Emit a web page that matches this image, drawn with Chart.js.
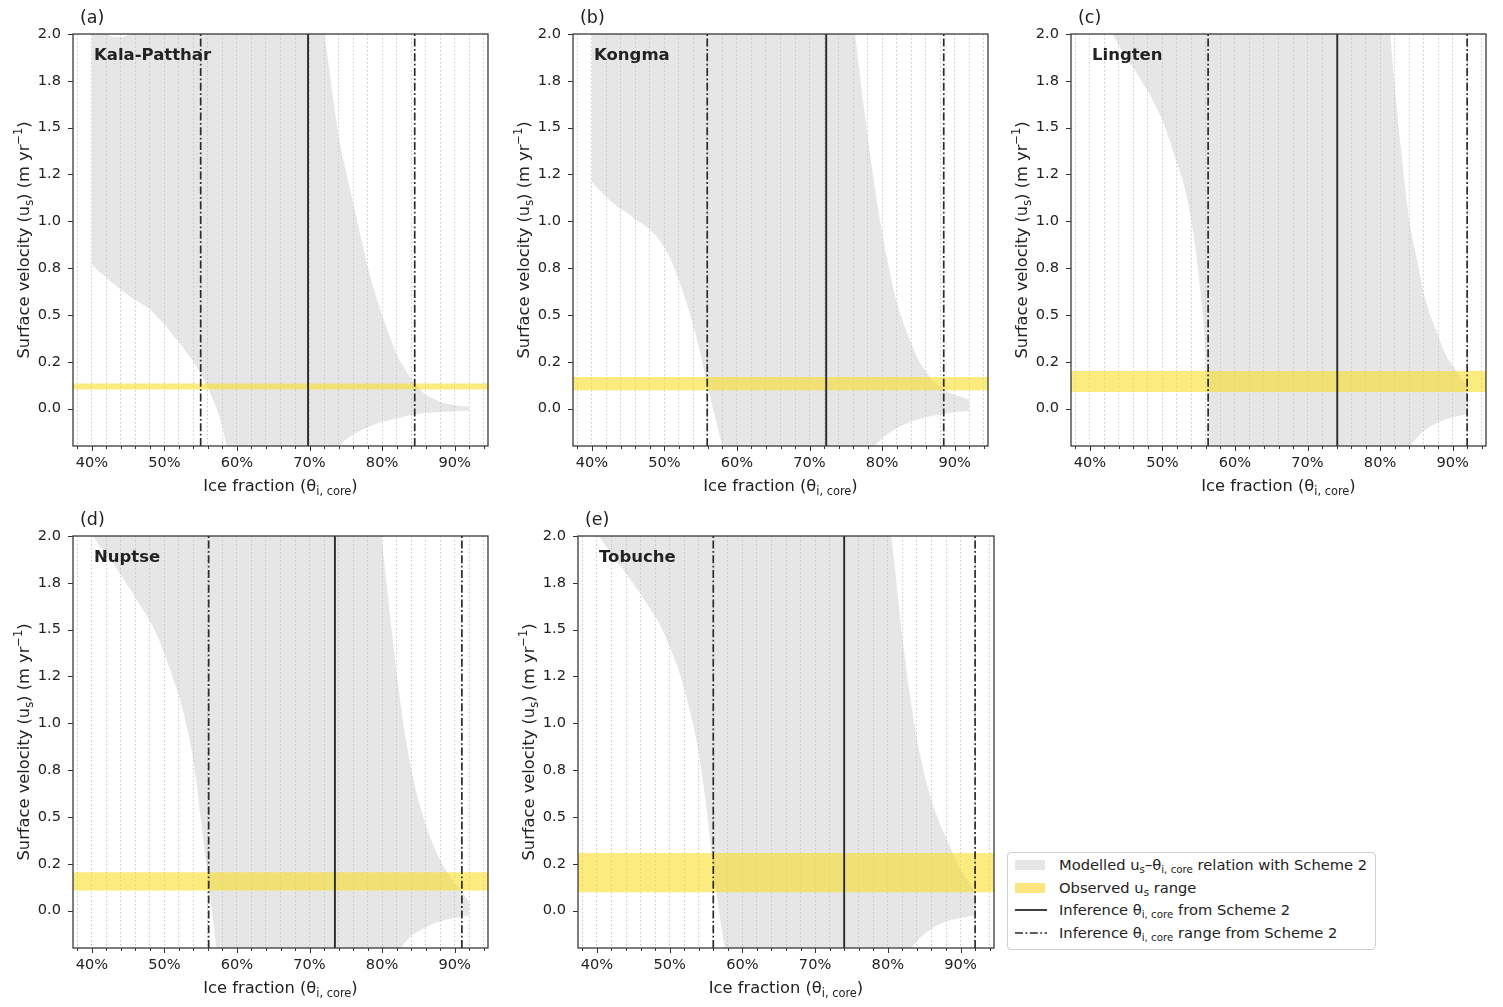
<!DOCTYPE html>
<html>
<head>
<meta charset="utf-8">
<script src="https://cdn.jsdelivr.net/npm/chart.js@4.4.0/dist/chart.umd.min.js"></script>
<style>
  body { margin: 0; background: #fff; width: 1503px; height: 1007px; position: relative; overflow: hidden;
         font-family: "DejaVu Sans", sans-serif; color: #222; }
  .panel { position: absolute; }
  #legend { position: absolute; left: 1007px; top: 852px; width: 369px; height: 98px; box-sizing: border-box;
            border: 1px solid #cfcfcf; border-radius: 4px; font-size: 14.7px; background: #fff; }
  #legend .row { position: absolute; left: 0; width: 100%; height: 22.5px; }
  #legend .sw { position: absolute; left: 7px; }
  #legend .patch { top: 6px; width: 30px; height: 10px; }
  #legend .lt { position: absolute; left: 51px; top: 0; line-height: 22.5px; white-space: nowrap; }
  #legend sub { font-size: 70%; vertical-align: -0.3em; line-height: 0; }
</style>
</head>
<body>
<div class="panel" id="p0"><canvas id="c0"></canvas></div>
<div class="panel" id="p1"><canvas id="c1"></canvas></div>
<div class="panel" id="p2"><canvas id="c2"></canvas></div>
<div class="panel" id="p3"><canvas id="c3"></canvas></div>
<div class="panel" id="p4"><canvas id="c4"></canvas></div>

<div id="legend">
  <div class="row" style="top:1px"><span class="sw patch" style="background:#e6e6e6"></span><span class="lt">Modelled u<sub>s</sub>–θ<sub>i, core</sub> relation with Scheme 2</span></div>
  <div class="row" style="top:23.5px"><span class="sw patch" style="background:#fbe77d"></span><span class="lt">Observed u<sub>s</sub> range</span></div>
  <div class="row" style="top:46px"><svg class="sw" style="top:6px" width="32" height="10"><line x1="0" y1="5" x2="32" y2="5" stroke="#2b2b2b" stroke-width="1.8"/></svg><span class="lt">Inference θ<sub>i, core</sub> from Scheme 2</span></div>
  <div class="row" style="top:68.5px"><svg class="sw" style="top:6px" width="32" height="10"><line x1="0" y1="5" x2="32" y2="5" stroke="#2b2b2b" stroke-width="1.6" stroke-dasharray="8 2.5 1.8 2.5"/></svg><span class="lt">Inference θ<sub>i, core</sub> range from Scheme 2</span></div>
</div>

<script>
// ice fraction sample points (%)
const thetaGrid = [40, 41, 42, 43, 44, 45, 46, 47, 48, 49,
                   50, 51, 52, 53, 54, 55, 56, 57, 58, 59,
                   60, 61, 62, 63, 64, 65, 66, 67, 68, 69,
                   70, 71, 72, 73, 74, 75, 76, 77, 78, 79,
                   80, 81, 82, 83, 84, 85, 86, 87, 88, 89,
                   90, 91, 92];

// modelled band (upper / lower edge of us); values outside -0.2..2 are clipped
const kalaUpper = [2.05, 2.03, 2.0, 1.984, 1.984, 2.0, 2.1, 2.2, 2.4, 2.6,
                   2.8, 3.0, 3.1, 3.2, 3.3, 3.3, 3.3, 3.3, 3.3, 3.25,
                   3.2, 3.15, 3.1, 3.05, 3.0, 2.95, 2.9, 2.85, 2.8, 2.75,
                   2.68, 2.35, 2.03, 1.73, 1.46, 1.27, 1.10, 0.93, 0.76, 0.62,
                   0.50, 0.39, 0.29, 0.22, 0.16, 0.113, 0.074, 0.053, 0.035, 0.025,
                   0.018, 0.014, 0.01];
const kalaLower = [0.77, 0.73, 0.70, 0.665, 0.635, 0.605, 0.58, 0.555, 0.53, 0.49,
                   0.45, 0.40, 0.355, 0.30, 0.25, 0.185, 0.11, 0.02, -0.10, -0.27,
                   -0.40, -0.52, -0.62, -0.70, -0.75, -0.78, -0.78, -0.75, -0.68, -0.58,
                   -0.48, -0.39, -0.31, -0.25, -0.205, -0.165, -0.14, -0.118, -0.10, -0.085,
                   -0.071, -0.062, -0.053, -0.043, -0.035, -0.029, -0.024, -0.021, -0.018, -0.016,
                   -0.014, -0.012, -0.01];

const kongmaUpper = [4.0, 4.0, 4.0, 4.0, 4.0, 4.0, 4.0, 4.0, 4.0, 4.0,
                     4.0, 4.0, 4.0, 4.0, 4.0, 4.0, 4.0, 4.0, 4.0, 4.0,
                     4.0, 4.0, 4.0, 4.0, 4.0, 3.95, 3.9, 3.85, 3.8, 3.75,
                     3.7, 3.6, 3.4, 3.1, 2.8, 2.45, 2.1, 1.76, 1.46, 1.18,
                     0.94, 0.74, 0.57, 0.45, 0.35, 0.26, 0.20, 0.15, 0.12, 0.09,
                     0.075, 0.06, 0.046];
const kongmaLower = [1.21, 1.17, 1.13, 1.095, 1.065, 1.04, 1.01, 0.985, 0.955, 0.915,
                     0.86, 0.785, 0.685, 0.57, 0.44, 0.285, 0.11, -0.05, -0.2, -0.33,
                     -0.45, -0.55, -0.63, -0.70, -0.75, -0.79, -0.81, -0.82, -0.81, -0.78,
                     -0.74, -0.68, -0.61, -0.53, -0.46, -0.39, -0.33, -0.28, -0.235, -0.198,
                     -0.16, -0.13, -0.105, -0.086, -0.069, -0.057, -0.047, -0.039, -0.031, -0.025,
                     -0.02, -0.016, -0.012];

const lingtenUpper = [4.0, 4.0, 4.0, 4.0, 4.0, 4.0, 4.0, 4.0, 4.0, 4.0,
                      4.0, 4.0, 4.0, 4.0, 4.0, 4.0, 4.0, 4.0, 4.0, 4.0,
                      4.0, 4.0, 4.0, 4.0, 4.0, 4.0, 4.0, 4.0, 4.0, 4.0,
                      4.0, 4.0, 4.0, 4.0, 4.0, 3.95, 3.8, 3.6, 3.35, 3.1,
                      2.75, 2.2, 1.73, 1.34, 1.01, 0.81, 0.62, 0.49, 0.39, 0.29,
                      0.23, 0.175, 0.12];
const lingtenLower = [2.4, 2.25, 2.12, 2.01, 1.94, 1.875, 1.82, 1.755, 1.695, 1.62,
                      1.54, 1.43, 1.31, 1.19, 1.00, 0.71, 0.27, -0.6, -0.9, -1.0,
                      -1.05, -1.1, -1.1, -1.1, -1.1, -1.1, -1.1, -1.1, -1.1, -1.1,
                      -1.1, -1.1, -1.1, -1.1, -1.05, -1.0, -0.9, -0.8, -0.7, -0.6,
                      -0.5, -0.41, -0.33, -0.26, -0.205, -0.16, -0.12, -0.095, -0.074, -0.058,
                      -0.047, -0.038, -0.03];

const nuptseUpper = [4.0, 4.0, 4.0, 4.0, 4.0, 4.0, 4.0, 4.0, 4.0, 4.0,
                     4.0, 4.0, 4.0, 4.0, 4.0, 4.0, 4.0, 4.0, 4.0, 4.0,
                     4.0, 4.0, 4.0, 4.0, 4.0, 4.0, 4.0, 4.0, 4.0, 4.0,
                     4.0, 4.0, 4.0, 4.0, 4.0, 3.95, 3.6, 3.2, 2.8, 2.35,
                     1.97, 1.61, 1.27, 0.98, 0.76, 0.59, 0.46, 0.355, 0.27, 0.205,
                     0.15, 0.10, 0.04];
const nuptseLower = [2.01, 1.95, 1.895, 1.85, 1.79, 1.73, 1.67, 1.61, 1.545, 1.47,
                     1.37, 1.26, 1.145, 0.995, 0.80, 0.49, 0.17, -0.15, -0.5, -0.7,
                     -0.85, -0.95, -0.95, -0.95, -0.95, -0.95, -0.95, -0.95, -0.95, -0.95,
                     -0.95, -0.95, -0.95, -0.95, -0.9, -0.82, -0.73, -0.65, -0.56, -0.47,
                     -0.38, -0.30, -0.225, -0.18, -0.135, -0.11, -0.09, -0.07, -0.058, -0.047,
                     -0.039, -0.033, -0.027];

const tobucheUpper = [4.0, 4.0, 4.0, 4.0, 4.0, 4.0, 4.0, 4.0, 4.0, 4.0,
                      4.0, 4.0, 4.0, 4.0, 4.0, 4.0, 4.0, 4.0, 4.0, 4.0,
                      4.0, 4.0, 4.0, 4.0, 4.0, 4.0, 4.0, 4.0, 4.0, 4.0,
                      4.0, 4.0, 4.0, 4.0, 4.0, 3.95, 3.8, 3.4, 3.0, 2.6,
                      2.17, 1.82, 1.46, 1.16, 0.92, 0.73, 0.59, 0.48, 0.39, 0.30,
                      0.22, 0.16, 0.10];
const tobucheLower = [2.01, 1.96, 1.90, 1.85, 1.80, 1.745, 1.69, 1.63, 1.57, 1.50,
                      1.41, 1.31, 1.185, 1.03, 0.84, 0.57, 0.22, -0.06, -0.3, -0.55,
                      -0.75, -0.9, -0.9, -0.9, -0.9, -0.9, -0.9, -0.9, -0.9, -0.9,
                      -0.9, -0.9, -0.9, -0.9, -0.85, -0.8, -0.74, -0.66, -0.58, -0.5,
                      -0.42, -0.34, -0.27, -0.21, -0.165, -0.125, -0.098, -0.075, -0.059, -0.048,
                      -0.040, -0.033, -0.027];

// observed us range [low, high] (m/yr)
const kalaObs = [0.102, 0.134];
const kongmaObs = [0.098, 0.169];
const lingtenObs = [0.089, 0.201];
const nuptseObs = [0.107, 0.205];
const tobucheObs = [0.098, 0.307];

// inferred ice fraction [range low, best, range high] (%)
const kalaInfer = [55.0, 69.8, 84.5];
const kongmaInfer = [55.9, 72.3, 88.5];
const lingtenInfer = [56.3, 74.1, 92.0];
const nuptseInfer = [56.1, 73.5, 91.0];
const tobucheInfer = [56.0, 74.0, 92.0];

const panelLetters = ['(a)', '(b)', '(c)', '(d)', '(e)'];
const siteNames = ['Kala-Patthar', 'Kongma', 'Lingten', 'Nuptse', 'Tobuche'];

// axes
const xLimits = [37.4, 94.6];
const yLimits = [-0.2, 2.0];
const xTickValues = [38, 40, 42, 44, 46, 48, 50, 52, 54, 56, 58, 60, 62, 64, 66,
                     68, 70, 72, 74, 76, 78, 80, 82, 84, 86, 88, 90, 92, 94];
const xMajorTicks = [40, 50, 60, 70, 80, 90];
const yTickValues = [0, 0.25, 0.5, 0.75, 1.0, 1.25, 1.5, 1.75, 2.0];
const yTickLabels = ['0.0', '0.2', '0.5', '0.8', '1.0', '1.2', '1.5', '1.8', '2.0'];

const uppers = [kalaUpper, kongmaUpper, lingtenUpper, nuptseUpper, tobucheUpper];
const lowers = [kalaLower, kongmaLower, lingtenLower, nuptseLower, tobucheLower];
const observed = [kalaObs, kongmaObs, lingtenObs, nuptseObs, tobucheObs];
const inferred = [kalaInfer, kongmaInfer, lingtenInfer, nuptseInfer, tobucheInfer];

// plot-area placement on the page: left, top, width, height
const plotBoxes = [[73, 34, 415, 412], [573, 34, 415, 412], [1071, 34, 415, 412],
                   [73, 536, 415, 412], [578, 536, 416, 412]];
const PAD_L = 72, PAD_T = 34, PAD_R = 12, PAD_B = 58;

const FONT = '"DejaVu Sans"';
const FS = 14.6;       // tick labels
const FS_TITLE = 16.3; // axis titles
const INK = '#222';
Chart.defaults.font.family = 'DejaVu Sans';
Chart.defaults.font.size = FS;
Chart.defaults.color = INK;

const xTitleParts = [{t: 'Ice fraction (θ'}, {t: 'i, core', sub: true}, {t: ')'}];
const yTitleParts = [{t: 'Surface velocity (u'}, {t: 's', sub: true}, {t: ') (m yr'}, {t: '−1', sup: true}, {t: ')'}];

// draws text with sub/superscript pieces, centred on cx, baseline at by
function drawRich(ctx, parts, cx, by, size, rotate) {
  ctx.save();
  ctx.translate(cx, by);
  if (rotate) ctx.rotate(-Math.PI / 2);
  ctx.textBaseline = 'alphabetic';
  ctx.textAlign = 'left';
  const sizes = parts.map(p => (p.sub || p.sup) ? size * 0.7 : size);
  const widths = parts.map((p, i) => { ctx.font = sizes[i] + 'px ' + FONT; return ctx.measureText(p.t).width; });
  let x = -widths.reduce((a, b) => a + b, 0) / 2;
  parts.forEach((p, i) => {
    ctx.font = sizes[i] + 'px ' + FONT;
    const dy = p.sub ? size * 0.22 : (p.sup ? -size * 0.42 : 0);
    ctx.fillText(p.t, x, dy);
    x += widths[i];
  });
  ctx.restore();
}

const decor = {
  id: 'decor',
  afterDraw(chart) {
    const {ctx, chartArea: a, scales: {x, y}} = chart;
    const o = chart.options.plugins.decor;
    ctx.save();
    ctx.strokeStyle = '#333';
    ctx.lineWidth = 1;
    // tick marks
    ctx.beginPath();
    xTickValues.forEach(v => {
      const px = Math.round(x.getPixelForValue(v)) + 0.5;
      const len = xMajorTicks.includes(v) ? 5 : 3;
      ctx.moveTo(px, a.bottom);
      ctx.lineTo(px, a.bottom + len);
    });
    yTickValues.forEach(v => {
      const py = Math.round(y.getPixelForValue(v)) + 0.5;
      ctx.moveTo(a.left, py);
      ctx.lineTo(a.left - 5, py);
    });
    ctx.stroke();
    // frame
    ctx.strokeStyle = '#3a3a3a';
    ctx.lineWidth = 1.3;
    ctx.strokeRect(a.left, a.top, a.right - a.left, a.bottom - a.top);
    // panel letter and site name
    ctx.fillStyle = INK;
    ctx.textAlign = 'left';
    ctx.textBaseline = 'alphabetic';
    ctx.font = '17.5px ' + FONT;
    ctx.fillText(o.letter, a.left + 7, a.top - 11);
    ctx.font = 'bold 16.5px ' + FONT;
    ctx.fillText(o.site, a.left + 21, a.top + 26);
    // axis titles
    drawRich(ctx, xTitleParts, (a.left + a.right) / 2, a.bottom + 45, FS_TITLE, false);
    drawRich(ctx, yTitleParts, a.left - 44, (a.top + a.bottom) / 2, FS_TITLE, true);
    ctx.restore();
  }
};

const GRAY = 'rgba(190,190,190,0.38)';
const YELLOW = 'rgba(250,221,40,0.6)';
const LINE = '#2b2b2b';
const DASHDOT = [8, 2.5, 1.8, 2.5];
const NONE = 'rgba(0,0,0,0)';

function vline(v) {
  return [{x: v, y: yLimits[0]}, {x: v, y: yLimits[1]}];
}

function makePanel(i) {
  const [L, T, W, H] = plotBoxes[i];
  const wrap = document.getElementById('p' + i);
  wrap.style.left = (L - PAD_L) + 'px';
  wrap.style.top = (T - PAD_T) + 'px';
  const cv = document.getElementById('c' + i);
  cv.width = PAD_L + W + PAD_R;
  cv.height = PAD_T + H + PAD_B;
  cv.style.width = cv.width + 'px';
  cv.style.height = cv.height + 'px';

  const lower = thetaGrid.map((t, k) => ({x: t, y: lowers[i][k]}));
  const upper = thetaGrid.map((t, k) => ({x: t, y: uppers[i][k]}));
  const obs = observed[i], inf = inferred[i];
  const base = {pointRadius: 0, pointHoverRadius: 0, tension: 0};
  const curve = {...base, cubicInterpolationMode: 'monotone'};

  new Chart(cv, {
    type: 'line',
    data: {
      datasets: [
        {...curve, data: lower, borderColor: NONE, borderWidth: 0, fill: false, order: 3},
        {...curve, data: upper, borderColor: NONE, borderWidth: 0, fill: '-1', backgroundColor: GRAY, order: 3},
        {...base, data: [{x: xLimits[0], y: obs[0]}, {x: xLimits[1], y: obs[0]}], borderColor: NONE, borderWidth: 0, fill: false, order: 2},
        {...base, data: [{x: xLimits[0], y: obs[1]}, {x: xLimits[1], y: obs[1]}], borderColor: NONE, borderWidth: 0, fill: '-1', backgroundColor: YELLOW, order: 2},
        {...base, data: vline(inf[1]), borderColor: LINE, borderWidth: 1.9, fill: false, order: 1},
        {...base, data: vline(inf[0]), borderColor: LINE, borderWidth: 1.7, borderDash: DASHDOT, fill: false, order: 1},
        {...base, data: vline(inf[2]), borderColor: LINE, borderWidth: 1.7, borderDash: DASHDOT, fill: false, order: 1}
      ]
    },
    options: {
      responsive: false,
      animation: false,
      events: [],
      layout: {padding: {left: 0, top: PAD_T, right: PAD_R, bottom: 0}},
      plugins: {
        legend: {display: false},
        tooltip: {enabled: false},
        decor: {letter: panelLetters[i], site: siteNames[i]}
      },
      scales: {
        x: {
          type: 'linear',
          min: xLimits[0],
          max: xLimits[1],
          afterBuildTicks: s => { s.ticks = xTickValues.map(v => ({value: v})); },
          afterFit: s => { s.height = PAD_B; },
          ticks: {
            autoSkip: false,
            maxRotation: 0,
            padding: 8,
            color: INK,
            callback: v => xMajorTicks.includes(v) ? v + '%' : ''
          },
          grid: {color: '#c8c8c8', lineWidth: 1, drawTicks: false},
          border: {display: false, dash: [1.5, 2.5]}
        },
        y: {
          type: 'linear',
          min: yLimits[0],
          max: yLimits[1],
          afterBuildTicks: s => { s.ticks = yTickValues.map(v => ({value: v})); },
          afterFit: s => { s.width = PAD_L; },
          ticks: {
            autoSkip: false,
            padding: 12,
            color: INK,
            callback: (v, idx) => yTickLabels[idx]
          },
          grid: {display: false, drawTicks: false},
          border: {display: false}
        }
      }
    },
    plugins: [decor]
  });
}

for (let i = 0; i < 5; i++) makePanel(i);
</script>
</body>
</html>
